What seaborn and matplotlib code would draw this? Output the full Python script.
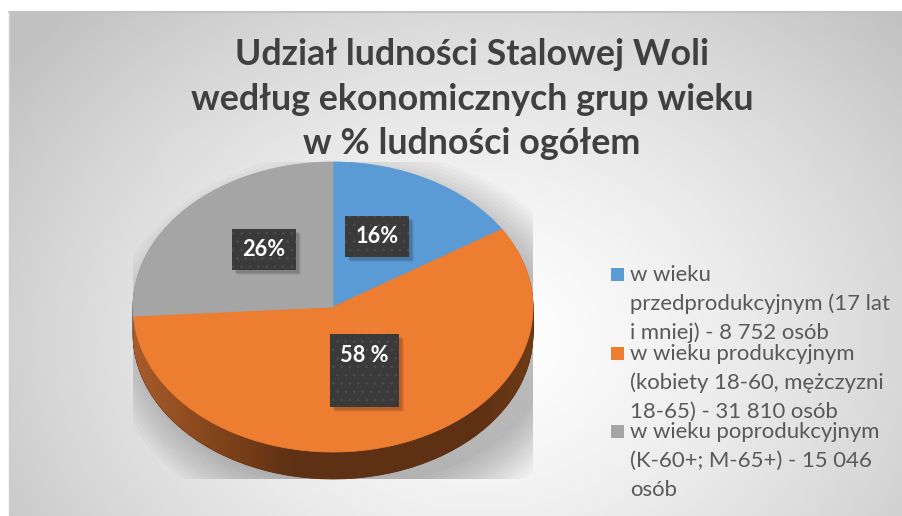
import numpy as np
import matplotlib
matplotlib.use("Agg")
import matplotlib.pyplot as plt
import seaborn as sns
from matplotlib.patches import Rectangle, Ellipse

sns.set_theme(style="white")
plt.rcParams['font.family'] = ['Lato', 'DejaVu Sans']
plt.rcParams['hatch.linewidth'] = 0.6

# ---------------- data ----------------
title_lines = ["Udział ludności Stalowej Woli",
               "według ekonomicznych grup wieku",
               "w % ludności ogółem"]
categories = ["w wieku przedprodukcyjnym", "w wieku produkcyjnym", "w wieku poprodukcyjnym"]
legend_lines = [["w wieku", "przedprodukcyjnym (17 lat", "i mniej) - 8 752 osób"],
                ["w wieku produkcyjnym", "(kobiety 18-60, mężczyzni", "18-65) - 31 810 osób"],
                ["w wieku poprodukcyjnym", "(K-60+; M-65+) - 15 046", "osób"]]
shares = [16, 58, 26]
share_labels = ["16%", "58 %", "26%"]
colors = ["#5b9bd5", "#ed7d31", "#a5a5a5"]
side_colors = ["#3d6f9e", "#5e3114", "#737373"]

W, H = 903, 516
fig = plt.figure(figsize=(W / 100, H / 100), dpi=100)

def fx(x):
    return x / W

def fy(y):
    return 1 - y / H

# ---------------- background ----------------
bg = fig.add_axes([0, 0, 1, 1])
bg.set_axis_off()
yy, xx = np.mgrid[0:H, 0:W]
r = np.hypot(xx - 480, (yy - 340) * 1.25)
v = 1 - 0.24 * np.clip(r / 580, 0, 1) ** 1.4
img = np.dstack([v, v, v])
img[(xx < 9) | (yy < 11)] = 1.0
bg.imshow(img, extent=[0, W, H, 0], aspect='auto', interpolation='bilinear')
bg.plot([9, W], [11.5, 11.5], color='#c2c2c2', lw=1.5)
bg.plot([9.5, 9.5], [11, H], color='#cfcfcf', lw=1.0)
bg.set_xlim(0, W)
bg.set_ylim(H, 0)

# ---------------- pie geometry ----------------
cx, cy, rx, ry, depth = 333, 307, 200, 145, 27
d = depth / ry
ax = fig.add_axes([fx(cx - rx), fy(cy + ry + depth), 2 * rx / W, (2 * ry + depth) / H])

# soft shadow
for i in range(14):
    ax.add_patch(Ellipse((0.10, -d - 0.05), 2.0 + 0.035 * i, 2.0 + 0.05 * i,
                         color='black', alpha=0.018, lw=0, zorder=0))

# side gradient (horizontal)
gx = np.linspace(-1, 1, 300)
stops_x = [-1.0, -0.55, -0.2, 0.7, 1.0]
stops_c = np.array([[0.66, 0.36, 0.17], [0.50, 0.26, 0.10], [0.37, 0.19, 0.08],
                    [0.37, 0.19, 0.08], [0.43, 0.23, 0.09]])
grad = np.stack([np.interp(gx, stops_x, stops_c[:, c]) for c in range(3)], axis=-1)[None, :, :]

for k in range(depth, 0, -1):
    off = -k / ry
    wedges, _ = ax.pie(shares, colors=side_colors, startangle=90, counterclock=False,
                       center=(0, off), radius=1,
                       wedgeprops=dict(linewidth=0.6))
    for w, c in zip(wedges, side_colors):
        w.set_edgecolor(c)
        w.set_zorder(2)
    im = ax.imshow(grad, extent=[-1, 1, -1 - d, 1], aspect='auto', zorder=2.1,
                   interpolation='bilinear')
    im.set_clip_path(wedges[1])

top, _ = ax.pie(shares, colors=colors, startangle=90, counterclock=False,
                center=(0, 0), radius=1, wedgeprops=dict(linewidth=0.6))
for w, c in zip(top, colors):
    w.set_edgecolor(c)
    w.set_zorder(5)

ax.set_aspect('auto')
ax.set_xlim(-1, 1)
ax.set_ylim(-1 - d, 1)
ax.set_axis_off()

# ---------------- helpers for fitting text ----------------
fig.canvas.draw()
renderer = fig.canvas.get_renderer()

def fit_size(text, target_px, weight='normal', base=20):
    t = fig.text(0, 0, text, fontsize=base, fontweight=weight)
    w = t.get_window_extent(renderer).width
    t.remove()
    return base * target_px / w

# ---------------- title ----------------
ts = fit_size(title_lines[0], 474, 'bold')
for line, yb in zip(title_lines, [65, 110, 154]):
    fig.text(fx(472), fy(yb), line, ha='center', va='baseline', fontsize=ts,
             fontweight='bold', color='#404040')

# ---------------- data label boxes ----------------
boxes = [(345, 216, 64, 41), (330, 334, 69, 73), (232, 229, 64, 41)]
label_pos = [(377, 237), (364, 355), (264, 250)]
ls = fit_size("16%", 43, 'bold')
for (bx, byy, bw, bh), (lx, ly), lab in zip(boxes, label_pos, share_labels):
    for s, a in [(5, 0.06), (4, 0.08), (3, 0.10)]:
        fig.patches.append(Rectangle((fx(bx + s), fy(byy + bh + s)), bw / W, bh / H,
                                     transform=fig.transFigure, facecolor='black',
                                     edgecolor='none', alpha=a, lw=0, zorder=10))
    fig.patches.append(Rectangle((fx(bx), fy(byy + bh)), bw / W, bh / H,
                                 transform=fig.transFigure, facecolor='#3a3a3a',
                                 edgecolor='#4d4d4d', hatch='..', lw=0, zorder=11))
    fig.text(fx(lx), fy(ly), lab, ha='center', va='center', fontsize=ls,
             fontweight='bold', color='white', zorder=12)

# ---------------- legend ----------------
gs = fit_size("przedprodukcyjnym (17 lat", 260)
item_base = [281, 360, 438]
pitch = 29
for lines, c, yb in zip(legend_lines, colors, item_base):
    fig.patches.append(Rectangle((fx(611), fy(yb)), 13 / W, 13 / H,
                                 transform=fig.transFigure, facecolor=c,
                                 edgecolor='none', lw=0))
    for j, line in enumerate(lines):
        fig.text(fx(630), fy(yb + j * pitch), line, ha='left', va='baseline',
                 fontsize=gs, color='#595959')

fig.savefig("out.png", dpi=100)
